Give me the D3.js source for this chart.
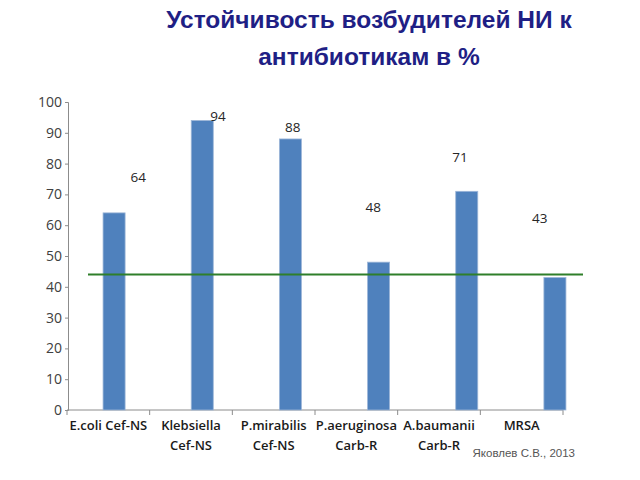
<!DOCTYPE html>
<html>
<head>
<meta charset="utf-8">
<script src="https://cdn.jsdelivr.net/npm/d3@7"></script>
<style>
  body { margin: 0; background: #fff; }
  svg { display: block; }
</style>
</head>
<body>
<div id="chart"></div>
<script>
// data
var categories = [
  ['E.coli Cef-NS'],
  ['Klebsiella', 'Cef-NS'],
  ['P.mirabilis', 'Cef-NS'],
  ['P.aeruginosa', 'Carb-R'],
  ['A.baumanii', 'Carb-R'],
  ['MRSA']
];
var values = [64, 94, 88, 48, 71, 43];
var threshold = 44;
var yTicks = [0, 10, 20, 30, 40, 50, 60, 70, 80, 90, 100];
var titleLines = ['Устойчивость возбудителей НИ к', 'антибиотикам в %'];
var credit = 'Яковлев С.В., 2013';

var width = 640, height = 480;

var svg = d3.select('#chart').append('svg')
    .attr('width', width)
    .attr('height', height);

var y = d3.scaleLinear().domain([0, 100]).range([410, 102]);

// axis categories and the bars sit on slightly different grids in the original
var xAxisScale = d3.scaleBand().domain(d3.range(categories.length)).range([67, 563]);
var xBar = d3.scaleBand().domain(d3.range(values.length)).range([70, 599]).paddingInner(0.75).paddingOuter(0.375);

// title
svg.append('g').selectAll('text')
  .data(titleLines)
  .enter().append('text')
    .attr('x', 369)
    .attr('y', function (d, i) { return 28 + i * 37; })
    .attr('text-anchor', 'middle')
    .style('font-family', 'Liberation Sans, Arial, sans-serif')
    .style('font-weight', 'bold')
    .style('font-size', '24.5px')
    .style('fill', '#1f1f85')
    .text(function (d) { return d; });

// y axis
var yAxis = d3.axisLeft(y).tickValues(yTicks).tickSize(3).tickPadding(3);
var gy = svg.append('g')
    .attr('transform', 'translate(68,0)')
    .call(yAxis);
gy.select('.domain').attr('stroke', '#8c8c8c');
gy.selectAll('.tick line').attr('stroke', '#8c8c8c');
gy.selectAll('.tick text')
    .style('font-family', 'Open Sans, sans-serif')
    .style('font-size', '14px')
    .style('fill', '#404040');

// x axis
var xAxis = d3.axisBottom(xAxisScale).tickSize(0).tickFormat('');
var gx = svg.append('g')
    .attr('transform', 'translate(0,410)')
    .call(xAxis);
gx.select('.domain').attr('stroke', '#8c8c8c').attr('d', 'M67,0H563');
gx.selectAll('.tick').remove();
gx.selectAll('.sep')
  .data(d3.range(categories.length + 1))
  .enter().append('line')
    .attr('x1', function (i) { return i < categories.length ? xAxisScale(i) : xAxisScale.range()[1]; })
    .attr('x2', function (i) { return i < categories.length ? xAxisScale(i) : xAxisScale.range()[1]; })
    .attr('y1', 0).attr('y2', 5)
    .attr('stroke', '#8c8c8c');

// category labels
var catG = svg.append('g').selectAll('text')
  .data(categories)
  .enter().append('text')
    .attr('x', function (d, i) { return xAxisScale(i) + xAxisScale.bandwidth() / 2; })
    .attr('y', 430)
    .attr('text-anchor', 'middle')
    .style('font-family', 'Open Sans, sans-serif')
    .style('font-weight', '600')
    .style('font-size', '13px')
    .style('fill', '#1a1a1a');
catG.selectAll('tspan')
  .data(function (d) { return d; })
  .enter().append('tspan')
    .attr('x', function () { return d3.select(this.parentNode).attr('x'); })
    .attr('dy', function (d, i) { return i ? 20 : 0; })
    .text(function (d) { return d; });

// bars
svg.append('g').selectAll('rect')
  .data(values)
  .enter().append('rect')
    .attr('x', function (d, i) { return xBar(i); })
    .attr('y', function (d) { return y(d); })
    .attr('width', xBar.bandwidth())
    .attr('height', function (d) { return y(0) - y(d); })
    .attr('fill', '#4f81bd')
    .attr('stroke', '#9db6d8')
    .attr('stroke-width', 0.8);

// threshold line
svg.append('line')
    .attr('x1', 88).attr('x2', 583)
    .attr('y1', y(threshold)).attr('y2', y(threshold))
    .attr('stroke', '#2f7f2a')
    .attr('stroke-width', 2);

// value labels (placed loosely above the bars, as in the slide)
var labelLift = [11.5, 1.5, 4, 18, 11, 19.5];
var labelShift = [30, 27, 19, 17, 21, 18];
svg.append('g').selectAll('text')
  .data(values)
  .enter().append('text')
    .attr('x', function (d, i) { return xAxisScale(i) + xAxisScale.bandwidth() / 2 + labelShift[i]; })
    .attr('y', function (d, i) { return y(d + labelLift[i]) + 5; })
    .attr('text-anchor', 'middle')
    .style('font-family', 'Open Sans, sans-serif')
    .style('font-size', '13.5px')
    .style('fill', '#262626')
    .text(function (d) { return d; });

// credit
svg.append('text')
    .attr('x', 575)
    .attr('y', 457)
    .attr('text-anchor', 'end')
    .style('font-family', 'Liberation Sans, Arial, sans-serif')
    .style('font-size', '11.5px')
    .style('fill', '#555')
    .text(credit);
</script>
</body>
</html>
